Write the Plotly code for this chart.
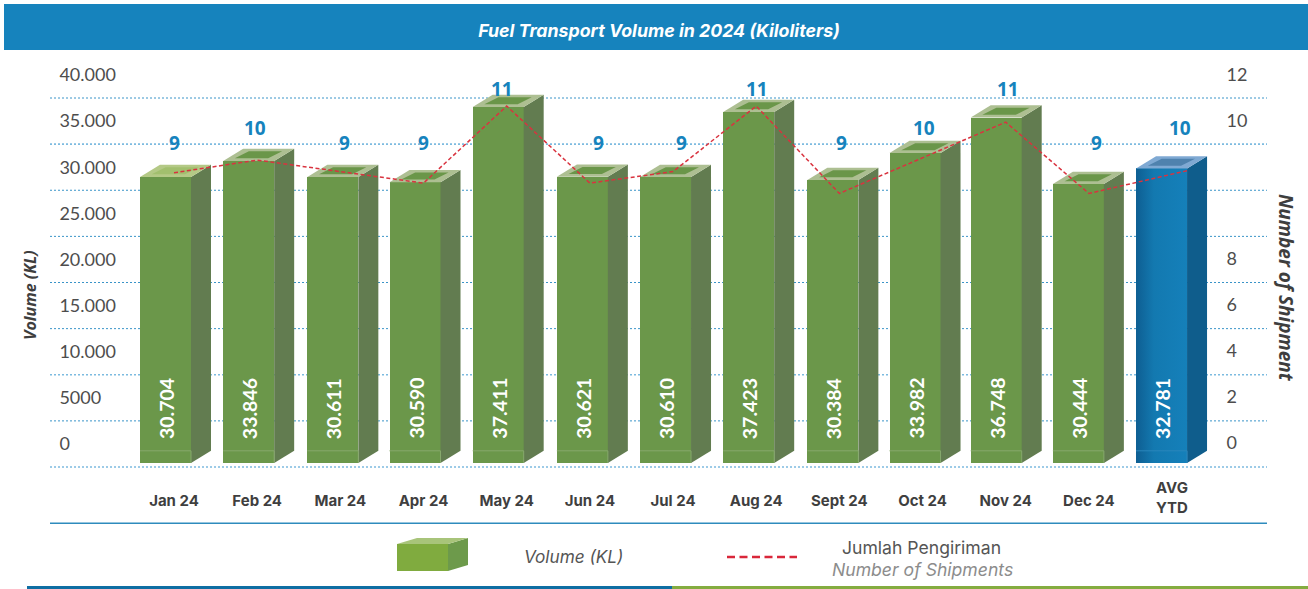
import plotly.graph_objects as go

W, H = 1308, 589
FONT = "Lato"
FONT_WIDE = "Open Sans"
FONT_TEXT = "Inter"

categories = ["Jan 24", "Feb 24", "Mar 24", "Apr 24", "May 24", "Jun 24", "Jul 24",
              "Aug 24", "Sept 24", "Oct 24", "Nov 24", "Dec 24", "AVG<br>YTD"]
volume_labels = ["30.704", "33.846", "30.611", "30.590", "37.411", "30.621", "30.610",
                 "37.423", "30.384", "33.982", "36.748", "30.444", "32.781"]
# bar heights as drawn (KL)
bar_tops = [31440, 33170, 31440, 30860, 39020, 31470, 31440,
            38480, 31110, 34040, 37880, 30680, 32370]
shipment_counts = [9, 10, 9, 9, 11, 9, 9, 11, 9, 10, 11, 9, 10]
line_levels = [11.75, 12.3, 11.8, 11.3, 14.65, 11.3, 11.8,
               14.65, 10.85, 12.4, 13.95, 10.85, 11.85]
left_tick_labels = ["0", "5000", "10.000", "15.000", "20.000", "25.000", "30.000", "35.000", "40.000"]
right_tick_labels = ["0", "2", "4", "6", "8", "10", "12"]
right_tick_slots = [0, 2, 4, 6, 8, 14, 16]

# pixel geometry helpers
PX_KL = 9.225 / 1000
Y0 = 467
STEP = 83.17
X0 = 174
px_x = lambda p: (p - X0) / STEP
px_y = lambda p: (Y0 - p) / PX_KL
dx = lambda p: p / STEP
dy = lambda p: p / PX_KL
BAR_W, BAR_OFF, DEPTH_X, DEPTH_Y = dx(51), dx(-34), dx(20), dy(12.2)
FLOOR = dy(4)
PL, PR, PT, PB = 50, 1267, 60, 470
bar_nudge_px = [0, 0, 1, 0, 0, 1, 1, 1, 2, 1, -1, -2, -2]

GREEN = dict(front="#6b974a", side="#627c50", rim="#adbf92", inner="#6a9649", foot="#86a86c")
JAN = dict(GREEN, rim="#b4c986", inner="#a2bf6e")
BLUE = dict(front="#1379b0", side="#0f5d8c", rim="#7fa9d3", inner="#4f82ae", foot="#2a86bb")

fig = go.Figure()
n = len(categories)
idx = list(range(n))
palette = [JAN] + [GREEN] * (n - 2) + [BLUE]

fig.add_trace(go.Bar(x=[i + dx(b) for i, b in zip(idx, bar_nudge_px)], y=[v - FLOOR for v in bar_tops], base=FLOOR,
                     width=BAR_W, offset=BAR_OFF,
                     marker=dict(color=[p["front"] for p in palette], line_width=0),
                     showlegend=False, hoverinfo="skip"))


def poly(xs, ys, color, **kw):
    fig.add_trace(go.Scatter(x=xs + xs[:1], y=ys + ys[:1], mode="lines", fill="toself", fillcolor=color,
                             line=dict(width=0, color=color), showlegend=False, hoverinfo="skip", **kw))


for i, v, p, b in zip(idx, bar_tops, palette, bar_nudge_px):
    xl = i + dx(b) + BAR_OFF
    xr = xl + BAR_W
    if p is BLUE:
        fig.add_trace(go.Scatter(x=[xl, xr, xr, xl, xl], y=[FLOOR, FLOOR, v, v, FLOOR], mode="lines",
                                 fill="toself", line=dict(width=0), showlegend=False, hoverinfo="skip",
                                 fillgradient=dict(type="horizontal",
                                                   colorscale=[[0, "#0e5e92"], [0.35, "#1379b0"], [1, "#1580ba"]])))
    poly([xr, xr + DEPTH_X, xr + DEPTH_X, xr], [FLOOR, FLOOR + DEPTH_Y, v + DEPTH_Y, v], p["side"])
    poly([xl, xl + DEPTH_X, xr + DEPTH_X, xr], [v, v + DEPTH_Y, v + DEPTH_Y, v], p["rim"])
    poly([xl + dx(11.7), xl + dx(25.7), xl + dx(59), xl + dx(45)],
         [v + dy(2.7), v + dy(9.7), v + dy(9.7), v + dy(2.7)], p["inner"])
    fig.add_trace(go.Scatter(x=[xl, xr, xr], y=[FLOOR + DEPTH_Y, FLOOR + DEPTH_Y, FLOOR], mode="lines",
                             line=dict(width=1, color=p["foot"]), showlegend=False, hoverinfo="skip"))

line_x = idx[:-1] + [idx[-1] + dx(16)]
fig.add_trace(go.Scatter(x=line_x, y=line_levels, yaxis="y2", mode="lines", showlegend=False, hoverinfo="skip",
                         line=dict(color="#d9333f", width=1.5, dash="4px,2.5px")))

ann = []
# values inside bars
for i, t, b in zip(idx, volume_labels, bar_nudge_px):
    ann.append(dict(x=i + dx(b) + BAR_OFF + BAR_W / 2 + dx(1), y=px_y(441), xref="x", yref="y", text=f"<b>{t}</b>",
                    textangle=-90, yanchor="bottom", xanchor="center", showarrow=False,
                    font=dict(family=FONT, size=19.5, color="white")))
# shipment counts above bars
count_row_px = {9: 143, 10: 128, 11: 89}
count_nudge_px = [0, -2, 4, 0, -5, 9, 8, 1, 2, 1, 2, 8, 8]
for i, c, nudge in zip(idx, shipment_counts, count_nudge_px):
    ann.append(dict(x=i, y=px_y(count_row_px[c]), xref="x", yref="y", xshift=nudge, text=f"<b>{c}</b>",
                    showarrow=False, xanchor="center", yanchor="middle",
                    font=dict(family=FONT_WIDE, size=19, color="#1683bd")))


def note(x, y, text, size, color, family=FONT_TEXT, angle=0, xref="paper"):
    ann.append(dict(x=x, y=1 - y / H, xref=xref, yref="paper", text=text, textangle=angle, showarrow=False,
                    xanchor="center", yanchor="middle", font=dict(family=family, size=size, color=color)))


# two-line AVG / YTD category
note(idx[-1], 497, f"<b>{categories[-1]}</b>", 15, "#3f3f3f", xref="x")
# axis titles
note(30 / W, 295, "<b><i>Volume (KL)</i></b>", 16, "#3e3e3e", family=FONT_WIDE, angle=-90)
note(1286 / W, 288, "<b><i>Number of Shipment</i></b>", 19, "#3e3e3e", family=FONT_WIDE, angle=90)
# legend
note(573 / W, 556, "<i>Volume (KL)</i>", 17.2, "#555555")
note(921 / W, 547, "Jumlah Pengiriman", 17.6, "#555555")
note(922 / W, 569, "<i>Number of Shipments</i>", 17.6, "#8c8c8c")

shapes = []


def rect(x0, y0, x1, y1, color):
    shapes.append(dict(type="rect", xref="paper", yref="paper", x0=x0 / W, x1=x1 / W, y0=1 - y0 / H, y1=1 - y1 / H,
                       fillcolor=color, line_width=0, layer="below"))


def path(points, color):
    d = "M" + "L".join(f"{x / W:.5f},{1 - y / H:.5f}" for x, y in points) + "Z"
    shapes.append(dict(type="path", xref="paper", yref="paper", path=d, fillcolor=color, line_width=0, layer="below"))


rect(4, 4, 1308, 50, "#1683bd")
rect(27, 586, 672, 589, "#0f6ea3")
rect(672, 586, 1308, 589, "#84ac40")
rect(50, 522.5, 1267, 524, "#2e8bbd")
path([(397, 544), (448, 544), (448, 571), (397, 571)], "#80ab3f")
path([(448, 544), (468, 538), (468, 565), (448, 571)], "#6d9a4b")
path([(397, 544), (417, 538), (468, 538), (448, 544)], "#a8c47a")
shapes.append(dict(type="line", xref="paper", yref="paper", x0=727 / W, x1=797 / W, y0=1 - 557 / H, y1=1 - 557 / H,
                   line=dict(color="#d9273a", width=2.5, dash="8px,4.5px")))
# dotted grid
light_lines = {0, 10000, 35000}
for v in range(0, 40001, 5000):
    light = v in light_lines
    shapes.append(dict(type="line", xref="paper", yref="y", x0=PL / W, x1=PR / W, y0=v, y1=v, layer="below",
                       line=dict(color="#7dbbe0" if light else "#3a94c8", width=1.6 if light else 1, dash="2px,2px")))

fig.update_layout(
    width=W, height=H, autosize=False, margin=dict(l=0, r=0, t=0, b=0),
    paper_bgcolor="white", plot_bgcolor="rgba(0,0,0,0)", bargap=0, showlegend=False,
    title=dict(text="<b><i>Fuel Transport Volume in 2024 (Kiloliters)</i></b>", x=659 / W, y=1 - 31 / H,
               xanchor="center", yanchor="middle", font=dict(family=FONT_TEXT, size=17.8, color="white")),
    xaxis=dict(domain=[PL / W, PR / W], range=[px_x(PL), px_x(PR)], showgrid=False, zeroline=False, showline=False,
               tickmode="array", tickvals=idx, ticktext=categories[:-1] + [""],
               ticks="outside", ticklen=17, tickcolor="rgba(0,0,0,0)",
               tickfont=dict(family=FONT_TEXT, size=15, color="#3f3f3f", weight="bold")),
    yaxis=dict(domain=[1 - PB / H, 1 - PT / H], range=[px_y(PB), px_y(PT)], showgrid=False, zeroline=False,
               showline=False, tickmode="array", tickvals=[v * 5000 + 2500 for v in range(9)],
               ticktext=left_tick_labels, ticklabelposition="inside", ticks="inside", ticklen=10,
               tickcolor="rgba(0,0,0,0)", tickfont=dict(family=FONT, size=18, color="#4d4d4d")),
    yaxis2=dict(overlaying="y", side="right", anchor="free", position=1218 / W,
                range=[(443 - PB) / 23, (443 - PT) / 23], showgrid=False, zeroline=False, showline=False,
                tickmode="array", tickvals=right_tick_slots, ticktext=right_tick_labels,
                ticks="outside", ticklen=4, tickcolor="rgba(0,0,0,0)",
                tickfont=dict(family=FONT, size=18, color="#4d4d4d")),
    shapes=shapes, annotations=ann,
)

fig.write_html("out.html", config=dict(displayModeBar=False),
               post_script="document.body.style.margin='0';")
